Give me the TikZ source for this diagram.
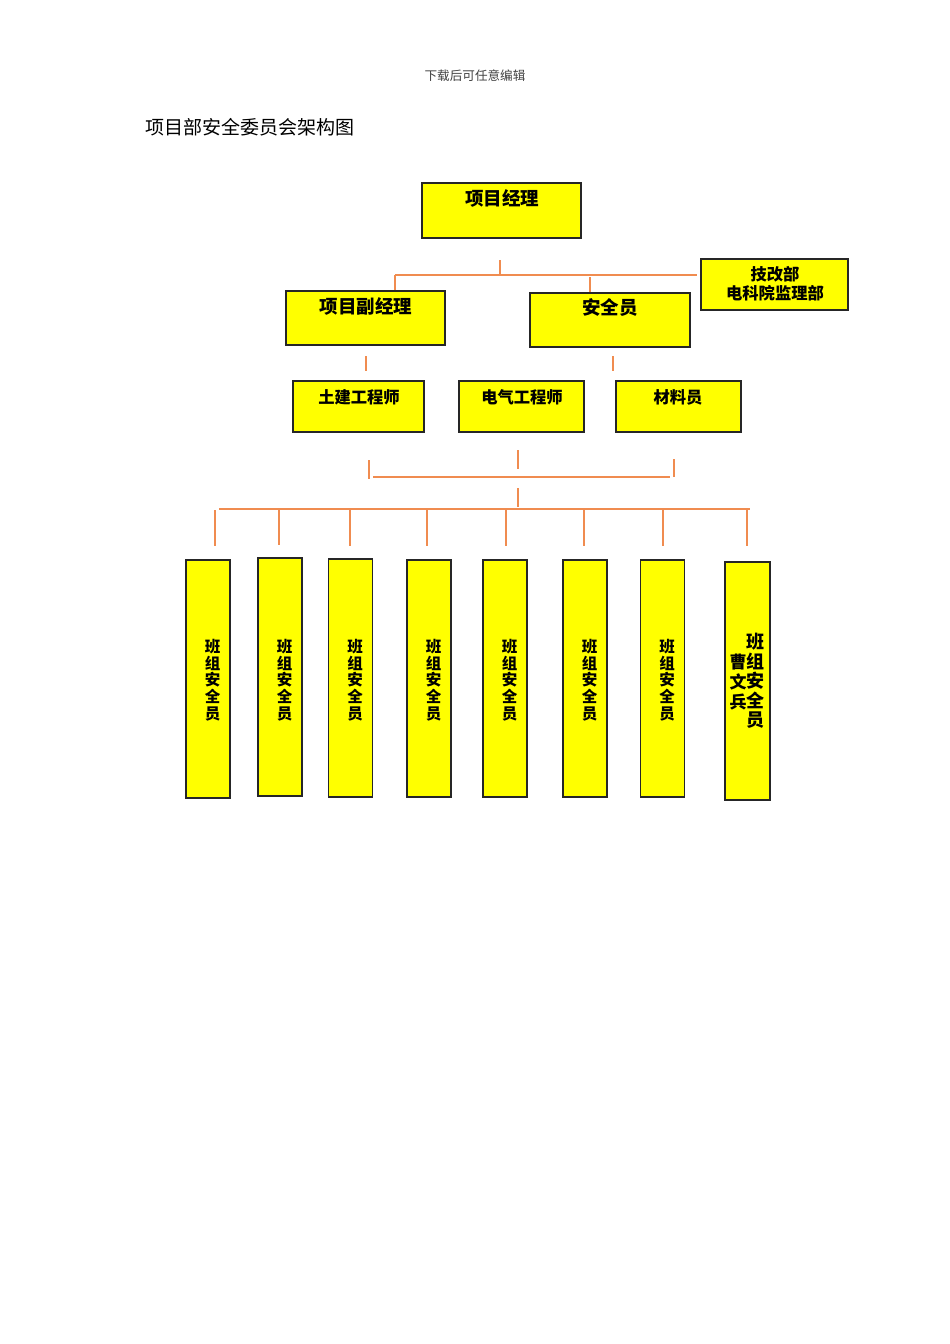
\documentclass[tikz,border=0pt]{standalone}
\usepackage{fontspec}
\usepackage{xcolor}
\setmainfont{Noto Sans CJK SC}
\newfontfamily\cjk{Noto Sans CJK SC}
\definecolor{lineorange}{RGB}{240,140,80}
\definecolor{boxyellow}{RGB}{255,255,0}

\begin{document}
\begin{tikzpicture}[x=1pt,y=-1pt,
	box/.style={draw=black!85,line width=1.1pt,fill=boxyellow,inner sep=0pt},
	bigtxt/.style={font=\cjk\bfseries\fontsize{18.5}{20}\selectfont,inner sep=0pt},
	txt/.style={font=\cjk\bfseries\fontsize{16.3}{19}\selectfont,inner sep=0pt,align=center},
	vtxt/.style={font=\cjk\bfseries\fontsize{15.5}{16.8}\selectfont,inner sep=0pt,align=center},
	ln/.style={draw=lineorange,line width=1.3pt}]

	\useasboundingbox (0,0) rectangle (950,1344);

	\node[font=\cjk\fontsize{12.6}{14}\selectfont,text=black!75,inner sep=0pt] (hdr) at (475,76) {下载后可任意编辑};
	\node[font=\cjk\fontsize{19}{21}\selectfont,anchor=west,inner sep=0pt] (ttl) at (145,127) {项目部安全委员会架构图};

	%upper boxes
	\node[box,minimum width=159,minimum height=55] (pm) at (501.5,210.5) {};
	\node[box,minimum width=147,minimum height=51] (tg) at (774.5,284.5) {};
	\node[box,minimum width=159,minimum height=54] (dpm) at (365.5,318) {};
	\node[box,minimum width=160,minimum height=54] (sa) at (610,320) {};
	\node[box,minimum width=131,minimum height=51] (tj) at (358.5,406.5) {};
	\node[box,minimum width=125,minimum height=51] (dq) at (521.5,406.5) {};
	\node[box,minimum width=125,minimum height=51] (cl) at (678.5,406.5) {};

	\node[bigtxt] (pm-t) at (502,198) {项目经理};
	\node[bigtxt] (dpm-t) at (366,306) {项目副经理};
	\node[bigtxt] (sa-t) at (610,307) {安全员};
	\node[txt] (tg-t) at (775,274) {技改部};
	\node[txt] (tg-t2) at (775,293) {电科院监理部};
	\node[txt] (tj-t) at (359,397) {土建工程师};
	\node[txt] (dq-t) at (522,397) {电气工程师};
	\node[txt] (cl-t) at (678,397) {材料员};

	%lower boxes
	\foreach \i/\x/\y/\h in {1/208/679/238, 2/280/677/238, 3/350.5/678/238, 4/429/678.5/237, 5/505/678.5/237, 6/585/678.5/237, 7/662.5/678.5/237} {
		\node[box,minimum width=44,minimum height=\h] (bz\i) at (\x,\y) {};
		\node[vtxt] (bz\i-t) at (\x+4.5,680) {班\\组\\安\\全\\员};
	}
	\node[box,minimum width=45,minimum height=238] (bz8) at (747.5,681) {};
	\node[font=\cjk\bfseries\fontsize{18}{19.5}\selectfont,inner sep=0pt,align=center] (bz8-t) at (755,681) {班\\组\\安\\全\\员};
	\node[font=\cjk\bfseries\fontsize{17}{20}\selectfont,inner sep=0pt,align=center] (bz8-n) at (738,682) {曹\\文\\兵};

	%top bus
	\coordinate (t0) at (500,260);
	\coordinate (t1) at (500,275);
	\coordinate (tl) at (395,275);
	\coordinate (tr) at (697,275);
	\coordinate (tm) at (590,277);
	\draw[ln] (t0) -- (t1);
	\draw[ln] (tl) -- (tr);
	\draw[ln] (tl) -- (tl |- dpm.north);
	\draw[ln] (tm) -- (tm |- sa.north);

	%loose stubs
	\foreach \nm/\x/\ya/\yb in {s1/366/356/371, s2/613/356/371, s3/518/450/469, s4/369/460/479, s5/674/459/477, s6/518/488/507} {
		\coordinate (\nm a) at (\x,\ya);
		\coordinate (\nm b) at (\x,\yb);
		\draw[ln] (\nm a) -- (\nm b);
	}
	\coordinate (ml) at (373,477);
	\coordinate (mr) at (670,477);
	\draw[ln] (ml) -- (mr);

	%bottom bus
	\coordinate (bl) at (219,509);
	\coordinate (br) at (750,509);
	\draw[ln] (bl) -- (br);
	\foreach \k/\x/\ya/\yb in {1/215/510/546, 2/279/508/545, 3/350/509/546, 4/427/509/546, 5/506/509/546, 6/584/509/546, 7/663/509/546, 8/747/509/546} {
		\coordinate (d\k a) at (\x,\ya);
		\coordinate (d\k b) at (\x,\yb);
		\draw[ln] (d\k a) -- (d\k b);
	}
\end{tikzpicture}
\end{document}
